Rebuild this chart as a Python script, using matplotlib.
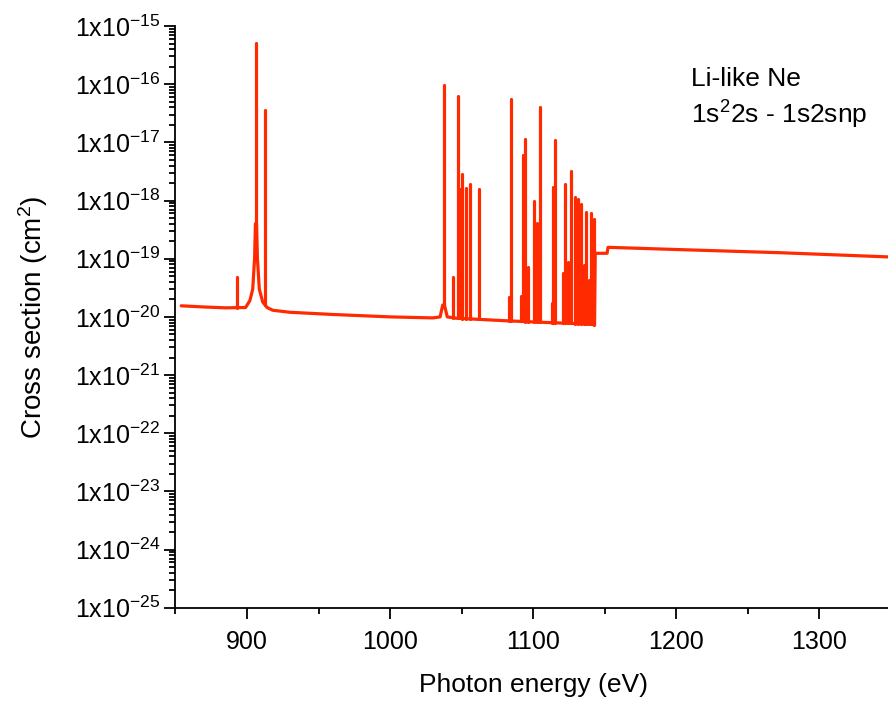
import numpy as np
import matplotlib
matplotlib.use("Agg")
import matplotlib.pyplot as plt
from matplotlib.ticker import FixedLocator, LogLocator, FuncFormatter, NullFormatter

# ---- data ----
# background (continuum) curve, incl. the wings of the strongest resonances
cont_energy = [854, 870, 885, 899, 902, 904, 905.3, 905.9, 906.7, 907.3, 908.6, 911, 914,
               918, 930, 960, 1000, 1030, 1035, 1036.8, 1038.0, 1040, 1046, 1080, 1110,
               1140, 1142.9, 1143.4, 1151.7, 1152.4, 1200, 1272, 1350]
cont_value = [1.55e-20, 1.48e-20, 1.43e-20, 1.45e-20, 1.9e-20, 3.0e-20, 1.0e-19, 4.0e-19,
              4.0e-19, 1.0e-19, 3.0e-20, 1.8e-20, 1.45e-20, 1.3e-20, 1.2e-20, 1.1e-20,
              1.0e-20, 9.6e-21, 1.0e-20, 1.6e-20, 1.6e-20, 1.0e-20, 9.5e-21, 8.6e-21,
              8.0e-21, 7.5e-21, 7.3e-21, 1.24e-19, 1.24e-19, 1.57e-19, 1.44e-19,
              1.27e-19, 1.07e-19]

# resonance lines: position (eV) and peak cross section (cm^2)
peak_energy = [893.0, 906.3, 912.4, 1037.4, 1043.7, 1047.6, 1049.0, 1050.6, 1053.4,
               1055.8, 1062.5, 1083.2, 1084.6, 1091.4, 1093.2, 1094.6, 1096.7, 1100.7,
               1103.0, 1104.7, 1113.5, 1114.2, 1115.6, 1121.2, 1122.3, 1124.7, 1126.5,
               1129.3, 1131.4, 1133.5, 1135.9, 1137.3, 1139.4, 1140.5, 1142.8]
peak_value = [4.9e-20, 5.2e-16, 3.6e-17, 9.7e-17, 4.8e-20, 6.3e-17, 1.6e-18, 2.9e-18,
              1.65e-18, 1.9e-18, 1.58e-18, 2.2e-20, 5.5e-17, 2.3e-20, 6.1e-18, 1.14e-17,
              7.2e-20, 9.8e-19, 4.1e-19, 4.1e-17, 1.7e-20, 1.7e-18, 1.1e-17, 5.6e-20,
              1.9e-18, 8.9e-20, 3.2e-18, 1.17e-18, 1.05e-18, 8.7e-19, 7.8e-20, 6.4e-19,
              4.3e-20, 6.0e-19, 4.9e-19]

x_ticks = [900, 1000, 1100, 1200, 1300]
y_decades = list(range(-25, -14))

# ---- styling ----
plt.rcParams['font.family'] = ['Liberation Sans', 'DejaVu Sans']
plt.rcParams['mathtext.fontset'] = 'custom'
plt.rcParams['mathtext.rm'] = 'Liberation Sans'
plt.rcParams['mathtext.it'] = 'Liberation Sans:italic'
plt.rcParams['mathtext.bf'] = 'Liberation Sans:bold'

color = '#ff2a00'
lw = 2.3

fig = plt.figure(figsize=(8.88, 7.02), dpi=100)
ax = fig.add_axes([0.1976, 0.1343, 0.8055, 0.8286])

ax.plot(cont_energy, cont_value, color=color, lw=lw, solid_joinstyle='round',
        solid_capstyle='round', zorder=3)
ce = np.array(cont_energy, dtype=float)
cv = np.log10(np.array(cont_value, dtype=float))
base = 10 ** np.interp(peak_energy, ce, cv)
ax.vlines(peak_energy, base, peak_value, colors=color, lw=lw, capstyle='round', zorder=3)

ax.set_yscale('log')
ax.set_xlim(850, 1350)
ax.set_ylim(1e-25, 1e-15)

ax.xaxis.set_major_locator(FixedLocator(x_ticks))
ax.xaxis.set_minor_locator(FixedLocator([850, 950, 1050, 1150, 1250, 1350]))
ax.yaxis.set_major_locator(FixedLocator([10.0 ** d for d in y_decades]))
ax.yaxis.set_minor_locator(LogLocator(base=10, subs=np.arange(2, 10), numticks=20))
ax.yaxis.set_minor_formatter(NullFormatter())
ax.yaxis.set_major_formatter(FuncFormatter(
    lambda v, p: r'$\mathregular{1x10^{%d}}$' % int(round(np.log10(v)))))

for s in ['top', 'right']:
    ax.spines[s].set_visible(False)
for s in ['left', 'bottom']:
    ax.spines[s].set_linewidth(1.3)

ax.tick_params(axis='both', which='major', direction='out', length=8, width=1.3,
               labelsize=18, color='black')
ax.tick_params(axis='both', which='minor', direction='out', length=4.5, width=1.3)
ax.tick_params(axis='x', which='major', pad=8)
ax.tick_params(axis='y', which='major', pad=3)

ax.set_xlabel('Photon energy (eV)', fontsize=19, labelpad=14)
ax.set_ylabel(r'Cross section (cm$\mathregular{^2}$)', fontsize=20, labelpad=18)

fig.text(0.778, 0.8775, 'Li-like Ne', fontsize=19, va='baseline', ha='left')
fig.text(0.778, 0.8244, r'1s$\mathregular{^2}$2s - 1s2snp', fontsize=19,
         va='baseline', ha='left')

fig.savefig('out.png', dpi=100)
